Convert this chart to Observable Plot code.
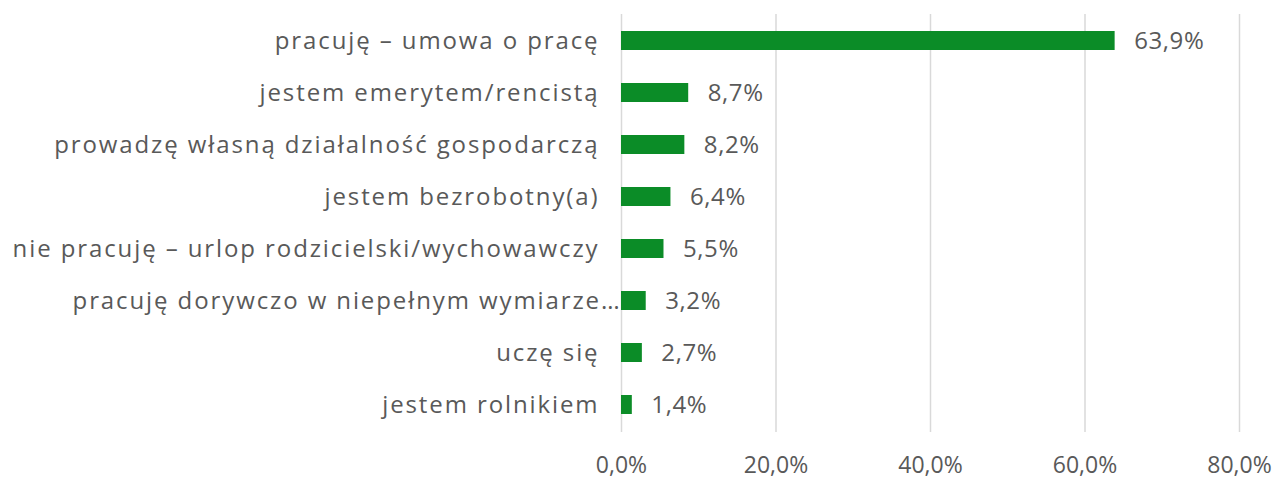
<!DOCTYPE html>
<html>
<head>
<meta charset="utf-8">
<script src="https://cdn.jsdelivr.net/npm/d3@7"></script>
<script src="https://cdn.jsdelivr.net/npm/@observablehq/plot@0.6"></script>
<style>
  html, body { margin: 0; padding: 0; background: #fff; }
  #chart svg { display: block; }
  .ylab text { letter-spacing: 1.9px; }
  .vlab text { letter-spacing: 0.6px; }
</style>
</head>
<body>
<div id="chart"></div>
<script>
const categories = [
  "pracuję – umowa o pracę",
  "jestem emerytem/rencistą",
  "prowadzę własną działalność gospodarczą",
  "jestem bezrobotny(a)",
  "nie pracuję – urlop rodzicielski/wychowawczy",
  "pracuję dorywczo w niepełnym wymiarze…",
  "uczę się",
  "jestem rolnikiem"
];
const values = [63.9, 8.7, 8.2, 6.4, 5.5, 3.2, 2.7, 1.4];
const xTicks = [0, 20, 40, 60, 80];
const truncatedLabel = "pracuję dorywczo w niepełnym wymiarze…";

const data = categories.map((c, i) => ({category: c, value: values[i]}));
const fmt = v => v.toFixed(1).replace(".", ",") + "%";

const font = "'Open Sans', Lato, sans-serif";
const textColor = "#595959";

const chart = Plot.plot({
  width: 1279,
  height: 480,
  marginLeft: 621,
  marginRight: 40,
  marginTop: 14,
  marginBottom: 48,
  style: {fontFamily: font, fontSize: "22px", color: textColor, background: "#fff"},
  x: {domain: [0, 80], ticks: xTicks, label: null},
  y: {domain: categories, label: null, axis: null, paddingInner: 0.63, paddingOuter: 0.3},
  marks: [
    Plot.gridX(xTicks, {stroke: "#d9d9d9", strokeOpacity: 1, strokeWidth: 1.5}),
    Plot.axisX({ticks: xTicks, tickFormat: fmt, tickSize: 0, tickPadding: 24, fontSize: 23, fill: textColor}),
    Plot.text(data.filter(d => d.category !== truncatedLabel), {x: 0, y: "category", text: "category", textAnchor: "end", dx: -22, fontSize: 24, fill: textColor, className: "ylab"}),
    Plot.text(data.filter(d => d.category === truncatedLabel), {x: 0, y: "category", text: "category", textAnchor: "end", dx: 0, fontSize: 24, fill: textColor, className: "ylab"}),
    Plot.barX(data, {x: "value", y: "category", fill: "#0b8c27"}),
    Plot.text(data, {x: "value", y: "category", text: d => fmt(d.value), textAnchor: "start", dx: 19, fontSize: 24, fill: textColor, className: "vlab"})
  ]
});
document.getElementById("chart").appendChild(chart);
</script>
</body>
</html>
